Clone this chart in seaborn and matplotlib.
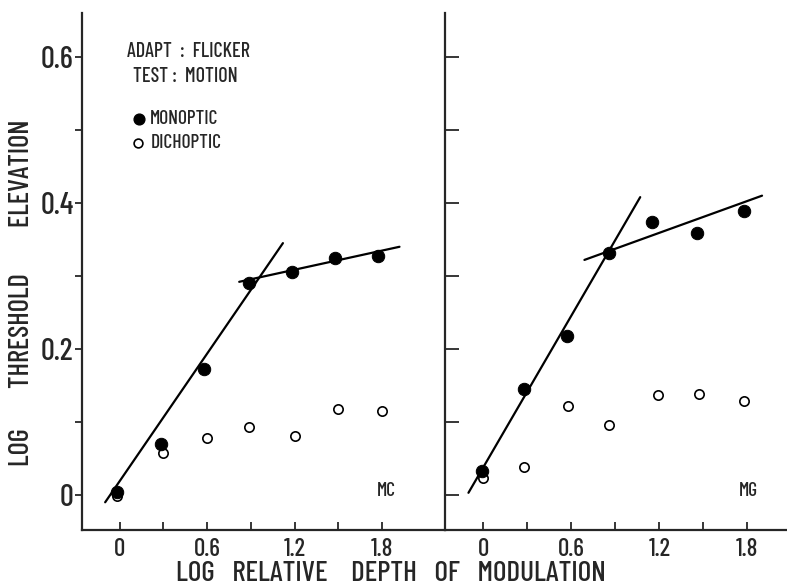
import numpy as np
import pandas as pd
import matplotlib.pyplot as plt
import seaborn as sns

# depth of modulation (log) for each point
depth_mc = [-0.02, 0.28, 0.58, 0.89, 1.18, 1.48, 1.77]
depth_mg = [-0.01, 0.28, 0.57, 0.86, 1.15, 1.46, 1.78]
depth_mc_dich = [-0.02, 0.30, 0.60, 0.89, 1.20, 1.50, 1.80]
depth_mg_dich = [0.0, 0.28, 0.58, 0.86, 1.19, 1.47, 1.78]

# log threshold elevation
mc_monoptic = [0.004, 0.070, 0.172, 0.290, 0.305, 0.325, 0.327]
mc_dichoptic = [-0.002, 0.058, 0.078, 0.093, 0.081, 0.118, 0.115]
mg_monoptic = [0.033, 0.145, 0.218, 0.332, 0.374, 0.359, 0.389]
mg_dichoptic = [0.023, 0.038, 0.122, 0.096, 0.137, 0.138, 0.129]

# fitted line end points (x, y)
mc_steep_x, mc_steep_y = [-0.10, 1.12], [-0.010, 0.345]
mc_flat_x, mc_flat_y = [0.82, 1.92], [0.292, 0.340]
mg_steep_x, mg_steep_y = [-0.10, 1.07], [0.003, 0.408]
mg_flat_x, mg_flat_y = [0.69, 1.90], [0.322, 0.410]

x_ticks = [0, 0.6, 1.2, 1.8]
x_minor = [0.3, 0.9, 1.5]
x_labels = ['0', '0.6', '1.2', '1.8']
y_ticks = [0, 0.1, 0.2, 0.3, 0.4, 0.5, 0.6]
y_labels = ['0', '', '0.2', '', '0.4', '', '0.6']

sns.set_style('ticks')
plt.rcParams['font.family'] = ['Barlow Condensed', 'Open Sans', 'DejaVu Sans']
plt.rcParams['font.weight'] = 500

fig = plt.figure(figsize=(7.87, 5.88), dpi=100)
ax1 = fig.add_axes([0.104, 0.0986, 0.461, 0.879])
ax2 = fig.add_axes([0.5654, 0.0986, 0.4346, 0.879])

panels = [
    (ax1, depth_mc, mc_monoptic, depth_mc_dich, mc_dichoptic,
     (mc_steep_x, mc_steep_y), (mc_flat_x, mc_flat_y), 'MC', 2.23, 0.84),
    (ax2, depth_mg, mg_monoptic, depth_mg_dich, mg_dichoptic,
     (mg_steep_x, mg_steep_y), (mg_flat_x, mg_flat_y), 'MG', 2.07, 0.886),
]

for ax, xm, ym, xd, yd, steep, flat, name, xmax, name_x in panels:
    for lx, ly in (steep, flat):
        sns.lineplot(x=lx, y=ly, ax=ax, color='black', linewidth=1.6,
                     estimator=None, sort=False)
    sns.scatterplot(x=xd, y=yd, ax=ax, s=45, facecolor='white',
                    edgecolor='black', linewidth=1.2, zorder=3)
    sns.scatterplot(x=xm, y=ym, ax=ax, s=80, color='black',
                    edgecolor='black', zorder=4)
    ax.set_xlim(-0.26, xmax)
    ax.set_ylim(-0.048, 0.66)
    ax.set_xticks(x_ticks)
    ax.set_xticks(x_minor, minor=True)
    ax.set_xticklabels(x_labels, fontsize=18)
    ax.set_yticks(y_ticks)
    sns.despine(ax=ax)
    for s in ax.spines.values():
        s.set_linewidth(1.6)
    ax.tick_params(axis='x', which='both', direction='in', length=6, width=1.3, pad=6)
    ax.text(name_x, 0.066, name, transform=ax.transAxes,
            fontsize=14, ha='center', va='baseline')
    ax.set_xlabel('')

ax1.set_yticklabels(y_labels, fontsize=22)
ax1.tick_params(axis='y', direction='out', length=5, width=1.3, pad=1)
ax2.set_yticklabels([])
ax2.tick_params(axis='y', direction='in', length=10, width=1.3)

fig.text(0.028, 0.502, 'LOG       THRESHOLD        ELEVATION', fontsize=20.5,
         rotation=90, ha='center', va='center')
fig.text(0.497, 0.001, 'LOG   RELATIVE    DEPTH   OF   MODULATION',
         fontsize=21, ha='center', va='bottom')

ax1.text(0.124, 0.915, 'ADAPT  :  FLICKER', transform=ax1.transAxes, fontsize=14.5)
ax1.text(0.140, 0.867, 'TEST :  MOTION', transform=ax1.transAxes, fontsize=14.5)
ax1.scatter([0.157], [0.795], transform=ax1.transAxes, s=60, color='black')
ax1.text(0.187, 0.795, 'MONOPTIC', transform=ax1.transAxes, fontsize=14, va='center')
ax1.scatter([0.154], [0.749], transform=ax1.transAxes, s=40, facecolor='white',
            edgecolor='black', linewidth=1.2)
ax1.text(0.190, 0.749, 'DICHOPTIC', transform=ax1.transAxes, fontsize=14, va='center')

fig.savefig('out.png', dpi=100)
